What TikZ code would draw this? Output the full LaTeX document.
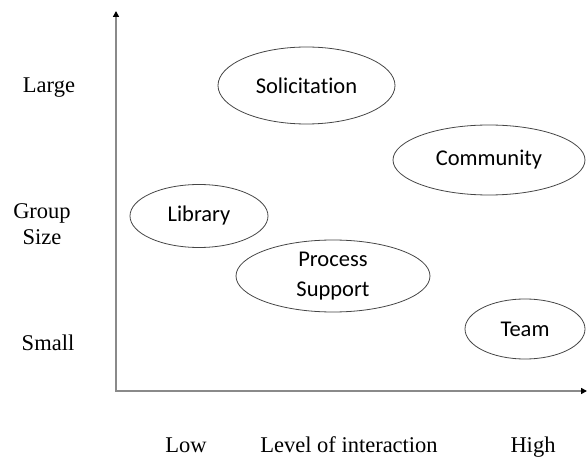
\documentclass[tikz,border=0pt]{standalone}
\usepackage{fontspec}
\setmainfont{Liberation Serif}
\newfontfamily\calib[Ligatures=NoCommon]{Carlito}
\usetikzlibrary{shapes.geometric,arrows.meta}
\definecolor{axisgray}{HTML}{8A8A8A}
\definecolor{edgegray}{HTML}{454545}
\tikzset{
  oval/.style={ellipse, draw=edgegray, line width=0.8pt, inner sep=0pt,
    font=\calib\fontsize{22.5}{30}\selectfont, align=center, text=black},
  axislabel/.style={font=\fontsize{22.5}{26}\selectfont, align=center, text=black},
  axisline/.style={draw=axisgray, line width=1.6pt, -{Triangle[width=6pt,length=6pt,color=black]}}
}
\begin{document}
\begin{tikzpicture}[x=1pt,y=-1pt]
\useasboundingbox (0,0) rectangle (587,457);
\coordinate (origin) at (116,391);
\coordinate (ytip) at (116,11);
\coordinate (xtip) at (587,391);
\draw[axisline] (origin) -- (ytip);
\draw[axisline] ([xshift=-0.8pt]origin) -- (xtip);

\node[oval, minimum width=177pt, minimum height=77pt] (sol) at (306.5,85.5) {Solicitation};
\node[oval, minimum width=192pt, minimum height=70pt] (com) at (489,160) {Community};
\node[oval, minimum width=138pt, minimum height=63pt] (lib) at (199,216) {Library};
\node[oval, minimum width=194pt, minimum height=72pt] (pro) at (333,276) {Process\\Support};
\node[oval, minimum width=120pt, minimum height=60pt] (team) at (525,329) {Team};

\node[axislabel] (large) at (49,88) {Large};
\node[axislabel] (gsize) at (42,224) {Group\\Size};
\node[axislabel] (small) at (48,343) {Small};

\node[axislabel, anchor=base] (low) at (186,452) {Low};
\node[axislabel, anchor=base] (level) at (349,452) {Level of interaction};
\node[axislabel, anchor=base] (high) at (533,452) {High};
\end{tikzpicture}
\end{document}
